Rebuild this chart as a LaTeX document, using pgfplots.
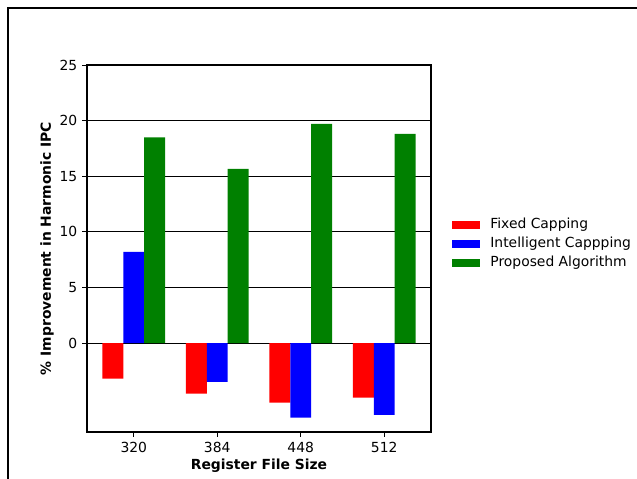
\documentclass[border=0pt]{standalone}
\usepackage{fontspec}
\setmainfont{DejaVu Sans}
\usepackage{pgfplots}
\pgfplotsset{compat=1.18}
\pgfplotsset{mylegend/.style={legend image code/.code={\fill[##1,draw=none] (0pt,-2.8pt) rectangle (20.2pt,2.8pt);}}}
\begin{document}
\begin{tikzpicture}
\useasboundingbox (-62.64pt,-33.84pt) rectangle (396pt,311.04pt);
\begin{axis}[
 at={(0pt,0pt)}, anchor=south west, scale only axis,
 width=247.68pt, height=264.24pt,
 ybar, bar width=0.25,
 xmin=-0.56, xmax=3.56, ymin=-8, ymax=25,
 xtick={0,1,2,3}, xticklabels={320,384,448,512},
 ytick={0,5,10,15,20,25},
 ymajorgrids, grid style={black, line width=0.6pt},
 tick align=outside, tick pos=left, major tick length=3.5pt,
 tick style={black, line width=0.6pt},
 axis line style={line width=0.8pt, black},
 /pgf/number format/assume math mode=true,
 ticklabel style={font=\fontsize{10}{12}\selectfont},
 xlabel={\bfseries Register File Size},
 ylabel={\bfseries \% Improvement in Harmonic IPC},
 label style={font=\fontsize{10}{12}\selectfont},
 xlabel style={at={(axis description cs:0.5,0)}, anchor=center, yshift=-24.5pt},
 ylabel style={at={(axis description cs:0,0.5)}, anchor=center, yshift=28.8pt},
 legend style={draw=none, fill=none, at={(axis description cs:1.06,0.513)}, anchor=west,
   font=\fontsize{10}{12}\selectfont, row sep=0.6pt, column sep=5.5pt, inner sep=0pt, cells={anchor=west}},
 legend cell align=left,
]
\addplot[fill=red, draw=none, bar shift=-0.25, mylegend] coordinates {(0,-3.2) (1,-4.55) (2,-5.37) (3,-4.9)};
\addplot[fill=blue, draw=none, bar shift=0, mylegend] coordinates {(0,8.2) (1,-3.5) (2,-6.7) (3,-6.45)};
\addplot[fill={rgb,255:red,0;green,128;blue,0}, draw=none, bar shift=0.25, mylegend] coordinates {(0,18.5) (1,15.65) (2,19.7) (3,18.8)};
\legend{Fixed Capping, Intelligent Cappping, Proposed Algorithm}
\end{axis}
\draw[line width=1.44pt, black] (-56.88pt,-80pt) -- (-56.88pt,305.28pt) -- (450pt,305.28pt);
\end{tikzpicture}
\end{document}
